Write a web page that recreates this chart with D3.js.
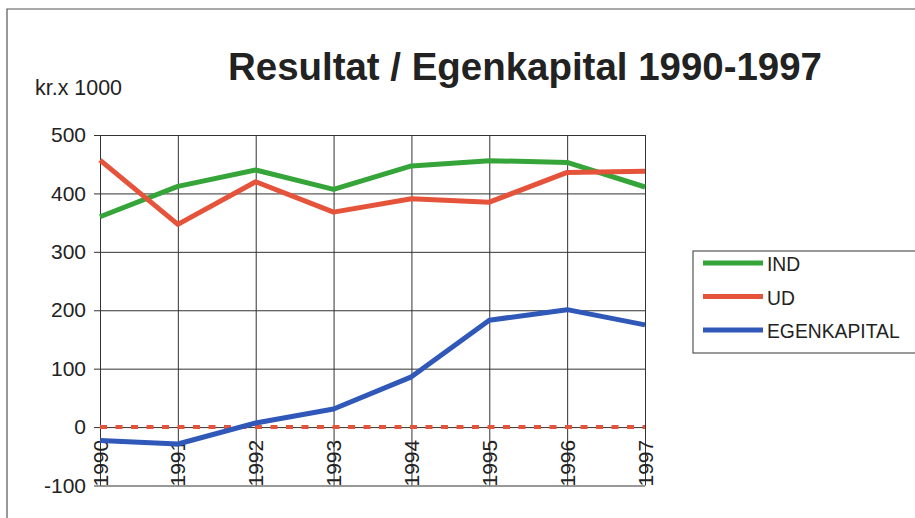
<!DOCTYPE html>
<html>
<head>
<meta charset="utf-8">
<script src="https://cdn.jsdelivr.net/npm/d3@7"></script>
<style>
  body { margin: 0; background: #fff; }
  svg { display: block; font-family: "Liberation Sans", Arial, sans-serif; }
</style>
</head>
<body>
<svg id="chart" width="915" height="518"></svg>
<script>
// data
var years = ["1990","1991","1992","1993","1994","1995","1996","1997"];
var ind = [360, 412, 440, 407, 447, 456, 453, 411];
var ud = [457, 347, 420, 368, 391, 385, 436, 438];
var egenkapital = [-23, -29, 7, 31, 86, 183, 201, 175];
var nulLinje = [0, 0, 0, 0, 0, 0, 0, 0];
var yTicks = [-100, 0, 100, 200, 300, 400, 500];

var seriesNames = ["IND", "UD", "EGENKAPITAL"];
var seriesColors = ["#35a53a", "#e5533b", "#2f58b8"];

var svg = d3.select("#chart");

// outer frame of the chart
svg.append("path")
    .attr("d", "M7,518 L7,9 L915,9")
    .attr("fill", "none")
    .attr("stroke", "#555")
    .attr("stroke-width", 1.2);

var x = d3.scalePoint().domain(years).range([100, 645]);
var y = d3.scaleLinear().domain([-100, 500]).range([485.5, 135]);

// horizontal gridlines + y labels
svg.append("g")
    .attr("class", "yaxis")
    .attr("transform", "translate(100,0)")
    .call(d3.axisLeft(y)
        .tickValues(yTicks)
        .tickSize(6)
        .tickPadding(8)
        .tickFormat(function(d) { return String(d); }))   // plain hyphen, like the scan
    .call(function(g) {
        g.select(".domain").remove();
        g.selectAll(".tick line").attr("x2", 545).attr("x1", -6).attr("stroke", "#333").attr("stroke-width", 1);
        g.selectAll(".tick text")
            .attr("font-size", 21)
            .attr("fill", "#222")
            .attr("font-family", "Liberation Sans, Arial, sans-serif");
    });

// vertical gridlines + rotated years
svg.append("g")
    .attr("class", "xaxis")
    .attr("transform", "translate(0," + y(-100) + ")")
    .call(d3.axisBottom(x).tickSize(0).tickFormat(""))
    .call(function(g) {
        g.select(".domain").remove();
        g.selectAll(".tick line").attr("y2", y(500) - y(-100)).attr("stroke", "#333").attr("stroke-width", 1);
    });

svg.append("g")
    .selectAll("text")
    .data(years)
    .enter()
    .append("text")
        .attr("transform", function(d) { return "translate(" + (x(d) + 7.5) + "," + (y(-100) + 1) + ") rotate(-90)"; })
        .attr("font-size", 21)
        .attr("fill", "#222")
        .text(function(d) { return d; });

// unit label
svg.append("text")
    .attr("x", 35).attr("y", 95)
    .attr("font-size", 22)
    .attr("fill", "#222")
    .attr("textLength", 87).attr("lengthAdjust", "spacingAndGlyphs")
    .text("kr.x 1000");

// title
svg.append("text")
    .attr("x", 228).attr("y", 80)
    .attr("font-size", 39)
    .attr("font-weight", "bold")
    .attr("fill", "#222")
    .attr("textLength", 594).attr("lengthAdjust", "spacingAndGlyphs")
    .text("Resultat / Egenkapital 1990-1997");

// lines
var line = d3.line()
    .x(function(d, i) { return x(years[i]); })
    .y(function(d) { return y(d); });

svg.append("path")
    .datum(nulLinje)
    .attr("d", line)
    .attr("fill", "none")
    .attr("stroke", "#e5533b")
    .attr("stroke-width", 4)
    .attr("stroke-dasharray", "7,8.5");

[ind, ud, egenkapital].forEach(function(vals, i) {
    svg.append("path")
        .datum(vals)
        .attr("d", line)
        .attr("fill", "none")
        .attr("stroke", seriesColors[i])
        .attr("stroke-width", 5)
        .attr("stroke-linejoin", "round");
});

// legend
var legend = svg.append("g").attr("transform", "translate(693,251)");
legend.append("rect")
    .attr("width", 225).attr("height", 102)
    .attr("fill", "#fff")
    .attr("stroke", "#555")
    .attr("stroke-width", 1.2);

var item = legend.selectAll("g.item")
    .data(seriesNames)
    .enter()
    .append("g")
        .attr("class", "item")
        .attr("transform", function(d, i) { return "translate(0," + (12 + i * 33.5) + ")"; });

item.append("line")
    .attr("x1", 10).attr("x2", 70)
    .attr("stroke", function(d, i) { return seriesColors[i]; })
    .attr("stroke-width", 5);

item.append("text")
    .attr("transform", "translate(74,8) scale(0.92,1)")
    .attr("font-size", 21)
    .attr("fill", "#222")
    .text(function(d) { return d; });
</script>
</body>
</html>
